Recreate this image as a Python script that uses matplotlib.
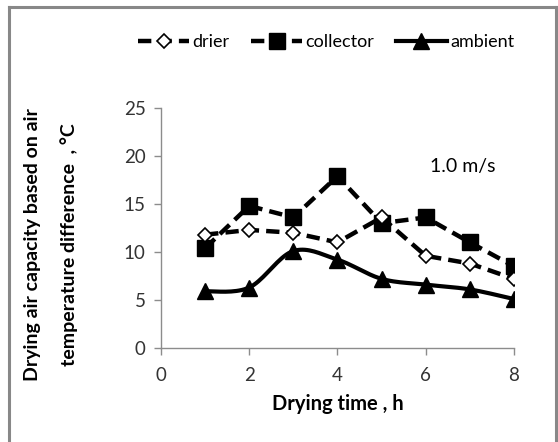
import numpy as np
import matplotlib
matplotlib.use("Agg")
import matplotlib.pyplot as plt
from matplotlib.lines import Line2D

plt.rcParams['font.family'] = ['Lato', 'DejaVu Sans']

hours = [1, 2, 3, 4, 5, 6, 7, 8]
drier = [11.8, 12.3, 12.0, 11.0, 13.6, 9.6, 8.8, 7.2]
collector = [10.4, 14.8, 13.6, 17.9, 13.0, 13.6, 11.0, 8.5]
ambient = [5.9, 6.3, 10.1, 9.2, 7.2, 6.6, 6.1, 5.1]

x_ticks = [0, 2, 4, 6, 8]
y_ticks = [0, 5, 10, 15, 20, 25]


def smooth(xs, ys, n=20):
    # Catmull-Rom style smoothing (similar to Excel "smoothed line")
    xs = np.asarray(xs, float)
    ys = np.asarray(ys, float)
    P = np.column_stack([xs, ys])
    P = np.vstack([P[0], P, P[-1]])
    out = []
    for i in range(1, len(P) - 2):
        p0, p1, p2, p3 = P[i - 1], P[i], P[i + 1], P[i + 2]
        t = np.linspace(0, 1, n)[:, None]
        c1 = p1 + (p2 - p0) / 6
        c2 = p2 - (p3 - p1) / 6
        seg = ((1 - t) ** 3) * p1 + 3 * ((1 - t) ** 2) * t * c1 + 3 * (1 - t) * t ** 2 * c2 + t ** 3 * p2
        out.append(seg if i == 1 else seg[1:])
    s = np.vstack(out)
    return s[:, 0], s[:, 1]


fig = plt.figure(figsize=(5.58, 4.42), dpi=100)
ax = fig.add_axes([0.2885, 0.2127, 0.6326, 0.543])

dash = (0, (3.0, 1.6))
ax.plot(hours, collector, color='black', lw=3.2, linestyle=dash,
        marker='s', markersize=11, markerfacecolor='black', markeredgecolor='black', zorder=3)
ax.plot(hours, drier, color='black', lw=3.2, linestyle=dash,
        marker='D', markersize=7, markerfacecolor='white', markeredgecolor='black',
        markeredgewidth=1.2, zorder=4)
sx, sy = smooth(hours, ambient)
ax.plot(sx, sy, color='black', lw=3.0, solid_capstyle='round', zorder=3)
ax.plot(hours, ambient, linestyle='none', marker='^', markersize=12,
        color='black', zorder=4)

ax.set_xlim(0, 8)
ax.set_ylim(0, 25)
ax.set_xticks(x_ticks)
ax.set_yticks(y_ticks)
for s in ['top', 'right']:
    ax.spines[s].set_visible(False)
for s in ['left', 'bottom']:
    ax.spines[s].set_color('#8c8c8c')
    ax.spines[s].set_linewidth(1.0)
ax.tick_params(axis='both', colors='#8c8c8c', labelcolor='#333333', labelsize=13.5,
               length=5, width=1.0, direction='out')
ax.tick_params(axis='x', pad=9)
ax.tick_params(axis='y', pad=6)

ax.set_xlabel('Drying time , h', fontsize=14.5, fontweight='bold', labelpad=7)
fig.text(0.058, 0.446, 'Drying air capacity based on air', rotation=90,
         fontsize=14, fontweight='bold', ha='center', va='center')
fig.text(0.123, 0.446, 'temperature difference  , \u00b0C', rotation=90,
         fontsize=14, fontweight='bold', ha='center', va='center')

ax.text(6.85, 18.9, '1.0 m/s', fontsize=14, ha='center', va='center')

handles = [
    Line2D([], [], color='black', lw=3.2, linestyle=dash, marker='D', markersize=7,
           markerfacecolor='white', markeredgecolor='black', markeredgewidth=1.2),
    Line2D([], [], color='black', lw=3.2, linestyle=dash, marker='s', markersize=11,
           markerfacecolor='black'),
    Line2D([], [], color='black', lw=3.0, marker='^', markersize=12),
]
fig.legend(handles, ['drier', 'collector', 'ambient'], loc='center',
           bbox_to_anchor=(0.585, 0.905), ncol=3, frameon=False, fontsize=13,
           handlelength=2.8, handletextpad=0.2, columnspacing=1.2)

# outer chart border
bc = '#888888'
fig.add_artist(Line2D([0.017, 0.017], [0.0, 0.985], color=bc, lw=2.2, transform=fig.transFigure))
fig.add_artist(Line2D([0.017, 0.997], [0.985, 0.985], color=bc, lw=2.2, transform=fig.transFigure))
fig.add_artist(Line2D([0.997, 0.997], [0.0, 0.985], color=bc, lw=2.2, transform=fig.transFigure))

fig.savefig('out.png', dpi=100)
